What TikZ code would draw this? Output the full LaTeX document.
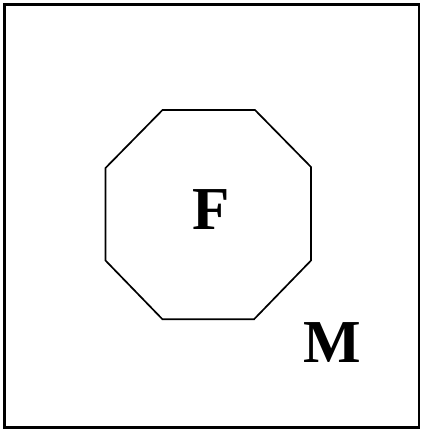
\documentclass[tikz,border=0pt]{standalone}
\usepackage{fontspec}
\setmainfont{Liberation Serif}
\begin{document}
\begin{tikzpicture}[x=1pt,y=-1pt,
  frame/.style={draw=black,line width=2.2pt},
  octa/.style={draw=black,line width=1.7pt,line join=miter},
  lbl/.style={font=\fontsize{61}{61}\selectfont\bfseries,inner sep=0pt,anchor=base}]
\useasboundingbox (0,0) rectangle (425,432);
\draw[frame] (4.5,4.5) rectangle (419,427.5);
\draw[octa] (162.5,110) -- (255,110) -- (311,167) -- (311,260.5) -- (254,319.3) -- (162.5,319.3) -- (105.5,260.5) -- (105.5,168) -- cycle;
\node[lbl] (F) at (211,229) {F};
\node[lbl] (M) at (332,362) {M};
\end{tikzpicture}
\end{document}
